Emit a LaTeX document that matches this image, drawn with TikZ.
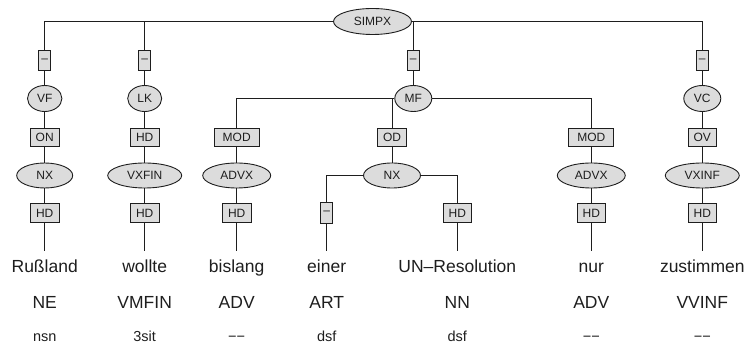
\documentclass[tikz,border=0pt]{standalone}
\usepackage{fontspec}
\setmainfont{Liberation Sans}
\usetikzlibrary{shapes.geometric}
\definecolor{nodefill}{HTML}{DCDCDC}
\definecolor{ink}{HTML}{1E1E1E}
\begin{document}
\begin{tikzpicture}[x=1pt,y=-1pt,
  lab/.style={font=\fontsize{12}{12}\selectfont, text=ink, inner sep=0pt},
  cat/.style={lab, ellipse, draw=ink, fill=nodefill, line width=0.9pt, minimum height=25pt},
  catsmall/.style={cat, minimum height=26pt},
  fn/.style={lab, rectangle, draw=ink, fill=nodefill, line width=0.9pt, minimum height=18.4pt, minimum width=28.6pt},
  dashbox/.style={fn, minimum width=11.6pt, minimum height=20.5pt},
  conn/.style={line width=1pt, ink},
  wordtext/.style={font=\fontsize{17.5}{18}\selectfont, anchor=base, inner sep=0pt, text=ink},
  postag/.style={font=\fontsize{17.5}{18}\selectfont, anchor=base, inner sep=0pt, text=ink},
  morphtag/.style={font=\fontsize{14.5}{15}\selectfont, anchor=base, inner sep=0pt, text=ink}
]
\useasboundingbox (0,0) rectangle (748,344);

% root
\node[cat, minimum width=78pt, minimum height=26pt] (simpx) at (372.5,21.5) {SIMPX};

% top dash boxes
\node[dashbox] (d1) at (44.7,60.5) {–};
\node[dashbox] (d2) at (144.7,60.5) {–};
\node[dashbox] (d3) at (413.3,60.5) {–};
\node[dashbox] (d4) at (702.3,60.5) {–};

% fields
\node[catsmall, minimum width=34.4pt] (vf) at (44.7,98.5) {VF};
\node[catsmall, minimum width=34pt] (lk) at (144.7,98.5) {LK};
\node[catsmall, minimum width=37pt] (mf) at (413.3,98.5) {MF};
\node[catsmall, minimum width=37pt] (vc) at (702.3,98.5) {VC};

% functions row 1
\node[fn] (on) at (44.7,137.5) {ON};
\node[fn] (hdlk) at (144.7,137.5) {HD};
\node[fn, minimum width=45pt] (mod1) at (236.7,137.5) {MOD};
\node[fn] (od) at (392,137.5) {OD};
\node[fn, minimum width=45pt] (mod2) at (591.3,137.5) {MOD};
\node[fn] (ov) at (702.3,137.5) {OV};

% phrases
\node[cat, minimum width=56pt] (nx1) at (44.7,175.5) {NX};
\node[cat, minimum width=74pt] (vxfin) at (144.7,175.5) {VXFIN};
\node[cat, minimum width=68pt] (advx1) at (236.7,175.5) {ADVX};
\node[cat, minimum width=57pt] (nx2) at (392,175.5) {NX};
\node[cat, minimum width=68pt] (advx2) at (591.3,175.5) {ADVX};
\node[cat, minimum width=74pt] (vxinf) at (702.3,175.5) {VXINF};

% functions row 2
\node[fn] (h1) at (44.7,213) {HD};
\node[fn] (h2) at (144.7,213) {HD};
\node[fn] (h3) at (236.7,213) {HD};
\node[dashbox] (d5) at (326.7,213) {–};
\node[fn] (h6) at (457.3,213) {HD};
\node[fn] (h7) at (591.3,213) {HD};
\node[fn] (h8) at (702.3,213) {HD};

% line ends
\coordinate (e1) at (44.7,251);
\coordinate (e2) at (144.7,251);
\coordinate (e3) at (236.7,251);
\coordinate (e4) at (326.7,251);
\coordinate (e6) at (457.3,251);
\coordinate (e7) at (591.3,251);
\coordinate (e8) at (702.3,251);

% words
\node[wordtext] (w1) at (44.7,272.7) {Rußland};
\node[wordtext] (w2) at (144.7,272.7) {wollte};
\node[wordtext] (w3) at (236.7,272.7) {bislang};
\node[wordtext] (w4) at (326.7,272.7) {einer};
\node[wordtext] (w6) at (457.3,272.7) {UN–Resolution};
\node[wordtext] (w7) at (591.3,272.7) {nur};
\node[wordtext] (w8) at (702.3,272.7) {zustimmen};

\node[postag] (p1) at (44.7,308.3) {NE};
\node[postag] (p2) at (144.7,308.3) {VMFIN};
\node[postag] (p3) at (236.7,308.3) {ADV};
\node[postag] (p4) at (326.7,308.3) {ART};
\node[postag] (p6) at (457.3,308.3) {NN};
\node[postag] (p7) at (591.3,308.3) {ADV};
\node[postag] (p8) at (702.3,308.3) {VVINF};

\node[morphtag] (m1) at (44.7,341.2) {nsn};
\node[morphtag] (m2) at (144.7,341.2) {3sit};
\node[morphtag] (m3) at (236.7,341.2) {−−};
\node[morphtag] (m4) at (326.7,341.2) {dsf};
\node[morphtag] (m6) at (457.3,341.2) {dsf};
\node[morphtag] (m7) at (591.3,341.2) {−−};
\node[morphtag] (m8) at (702.3,341.2) {−−};

% connectors
\draw[conn] (simpx.west) -| (d1);
\draw[conn] (simpx.west) -| (d2);
\draw[conn] (simpx.east) -| (d3);
\draw[conn] (simpx.east) -| (d4);
\draw[conn] (d1) -- (vf);
\draw[conn] (d2) -- (lk);
\draw[conn] (d3) -- (mf);
\draw[conn] (d4) -- (vc);
\draw[conn] (vf) -- (on);
\draw[conn] (lk) -- (hdlk);
\draw[conn] (mf.west) -| (mod1);
\draw[conn] (mf.west) -| (od);
\draw[conn] (mf.east) -| (mod2);
\draw[conn] (vc) -- (ov);
\draw[conn] (on) -- (nx1);
\draw[conn] (hdlk) -- (vxfin);
\draw[conn] (mod1) -- (advx1);
\draw[conn] (od) -- (nx2);
\draw[conn] (mod2) -- (advx2);
\draw[conn] (ov) -- (vxinf);
\draw[conn] (nx1) -- (h1);
\draw[conn] (vxfin) -- (h2);
\draw[conn] (advx1) -- (h3);
\draw[conn] (nx2.west) -| (d5);
\draw[conn] (nx2.east) -| (h6);
\draw[conn] (advx2) -- (h7);
\draw[conn] (vxinf) -- (h8);
\draw[conn] (h1) -- (e1);
\draw[conn] (h2) -- (e2);
\draw[conn] (h3) -- (e3);
\draw[conn] (d5) -- (e4);
\draw[conn] (h6) -- (e6);
\draw[conn] (h7) -- (e7);
\draw[conn] (h8) -- (e8);
\end{tikzpicture}
\end{document}
